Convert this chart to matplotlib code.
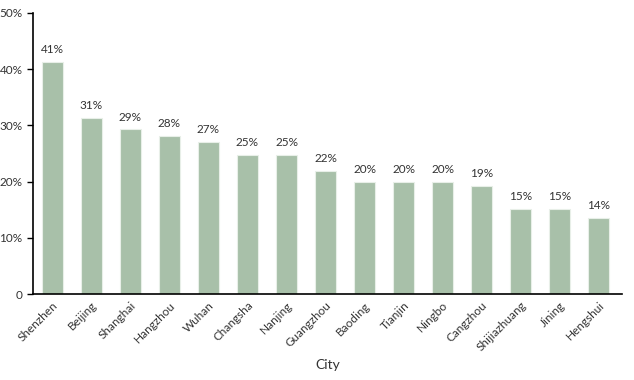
import matplotlib
matplotlib.use("Agg")
import matplotlib.pyplot as plt
from matplotlib.ticker import FuncFormatter

cities = ["Shenzhen", "Beijing", "Shanghai", "Hangzhou", "Wuhan", "Changsha",
          "Nanjing", "Guangzhou", "Baoding", "Tianjin", "Ningbo", "Cangzhou",
          "Shijiazhuang", "Jining", "Hengshui"]
share = [41.3, 31.3, 29.3, 28.2, 27.1, 24.8, 24.8, 21.9, 20.0, 20.0, 20.0,
         19.3, 15.2, 15.2, 13.5]

plt.rcParams['font.family'] = ['Lato', 'DejaVu Sans']

fig = plt.figure(figsize=(6.34, 3.8), dpi=100)
ax = fig.add_axes([0.052, 0.226, 0.929, 0.74])

bars = ax.bar(range(len(cities)), share, width=0.55, color="#a8c0a9",
              edgecolor="#e8efe8", linewidth=0.8)
for b, v in zip(bars, share):
    ax.text(b.get_x() + b.get_width() / 2, v + 1.2, "%d%%" % round(v),
            ha="center", va="bottom", fontsize=8.5, color="#333333")

ax.set_ylim(0, 50)
ax.set_xlim(-0.5, len(cities) - 0.4)
ax.set_yticks([0, 10, 20, 30, 40, 50])
ax.yaxis.set_major_formatter(FuncFormatter(lambda y, p: "0" if y == 0 else "%d%%" % y))
ax.set_xticks(range(len(cities)))
ax.set_xticklabels(cities, rotation=45, ha="right", rotation_mode="anchor")
ax.tick_params(axis="x", length=0, pad=4, labelsize=8.5, labelcolor="#333333")
ax.tick_params(axis="y", length=4, width=1, labelsize=8.5, labelcolor="#333333")
ax.spines["top"].set_visible(False)
ax.spines["right"].set_visible(False)
ax.spines["left"].set_linewidth(1.2)
ax.spines["bottom"].set_linewidth(1.2)
ax.set_xlabel("City", fontsize=10, color="#333333")

fig.savefig("out.png", dpi=100)
